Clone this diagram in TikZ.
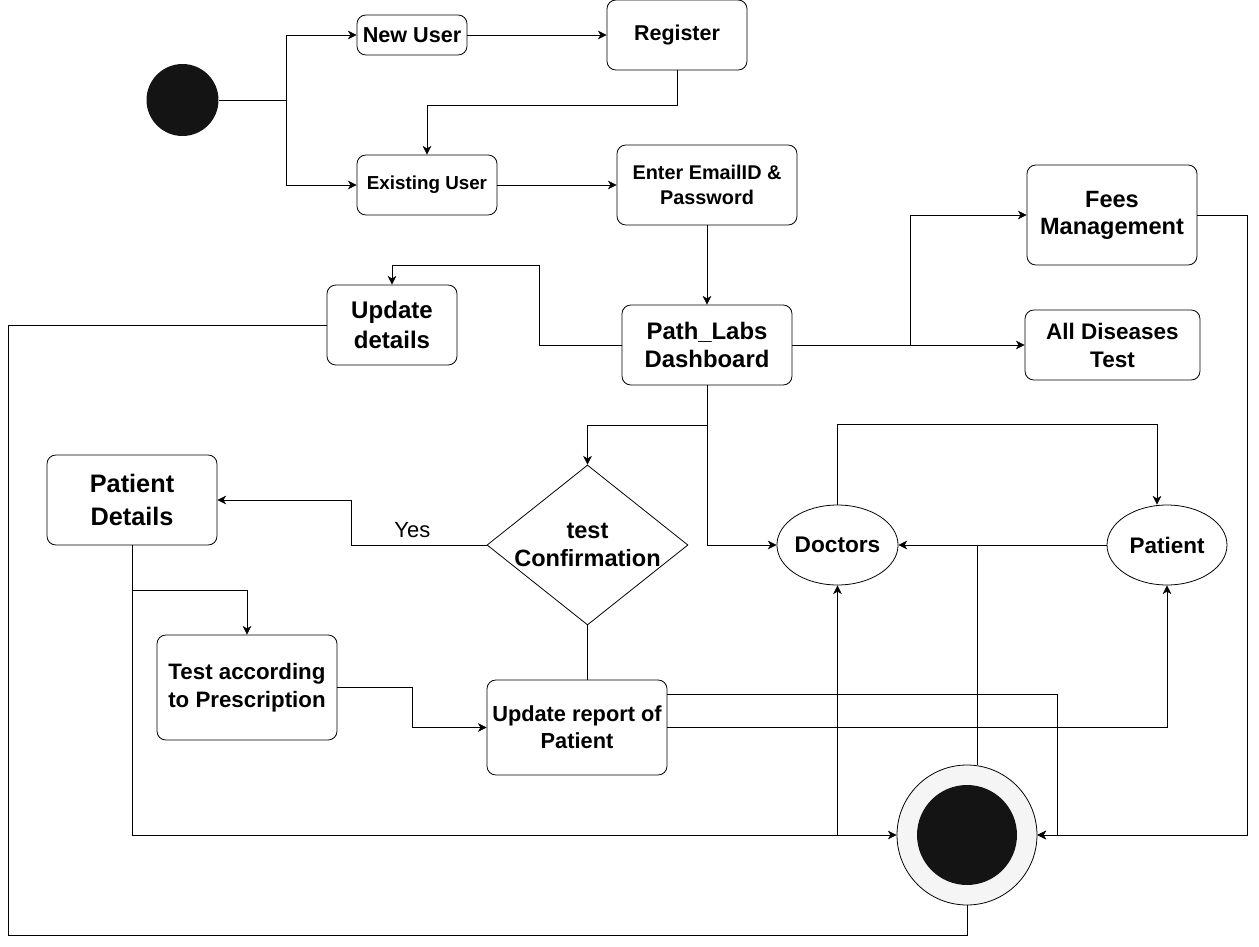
\documentclass[tikz,border=0pt]{standalone}
\usepackage{fontspec}
\setmainfont{Liberation Sans}
\usetikzlibrary{arrows.meta,shapes.geometric}
\definecolor{dotblack}{HTML}{141414}
\definecolor{ringgray}{HTML}{F5F5F5}

\tikzset{
  actbox/.style={draw, rounded corners=5pt, align=center, inner sep=1pt, line width=0.45pt},
  txt/.style 2 args={font=\bfseries\fontsize{#1}{#2}\selectfont},
  usecase/.style={draw, ellipse, inner sep=0pt, line width=0.45pt},
  decision/.style={draw, diamond, inner sep=0pt, line width=0.45pt},
  startdot/.style={circle, fill=dotblack, minimum size=1.44cm, inner sep=0pt},
  endring/.style={circle, draw, fill=ringgray, minimum size=2.8cm, inner sep=0pt, line width=0.45pt},
  enddot/.style={circle, fill=dotblack, minimum size=2cm, inner sep=0pt},
  flow/.style={line width=0.45pt, -{Stealth[length=5pt,width=5pt,inset=1.5pt]}},
  link/.style={line width=0.45pt},
}

\begin{document}
\begin{tikzpicture}[x=0.02cm,y=-0.02cm]
  \useasboundingbox (0,0) rectangle (1259,947);

  % states
  \node[startdot] (start) at (182.5,100) {};
  \node[actbox, minimum width=2.2cm, minimum height=0.8cm, txt={12.3}{14}] (newuser) at (412,35) {New User};
  \node[actbox, minimum width=2.8cm, minimum height=1.4cm, txt={12.2}{14}] (register) at (677,35) {\raisebox{-1.5pt}{Register}};
  \node[actbox, minimum width=2.8cm, minimum height=1.2cm, txt={10.7}{13}] (existing) at (427,185) {\raisebox{-1.5pt}{Existing User}};
  \node[actbox, minimum width=3.6cm, minimum height=1.6cm, txt={11.3}{14}] (login) at (707,185) {Enter EmailID \&\\Password};
  \node[actbox, minimum width=3.4cm, minimum height=1.6cm, txt={13.6}{15.9}] (dash) at (707,345) {Path\_Labs\\Dashboard};
  \node[actbox, minimum width=2.6cm, minimum height=1.6cm, txt={13.7}{17}] (upd) at (392,325) {Update\\details};
  \node[actbox, minimum width=3.4cm, minimum height=2cm, txt={13.4}{15.3}] (fees) at (1112,215) {Fees\\Management};
  \node[actbox, minimum width=3.5cm, minimum height=1.4cm, txt={12.8}{15.9}] (alltest) at (1112.5,345) {All Diseases\\Test};
  \node[actbox, minimum width=3.4cm, minimum height=1.8cm, txt={14.4}{18.7}] (pdet) at (132,500) {Patient\\Details};
  \node[decision, minimum width=4.02cm, minimum height=3.2cm,
        label={[txt={13.4}{15.9}, align=center]center:test\\Confirmation}] (conf) at (587.5,545) {};
  \node[actbox, minimum width=3.6cm, minimum height=2.1cm, txt={12.7}{15.9}] (presc) at (247,687.5) {Test according\\to Prescription};
  \node[actbox, minimum width=3.6cm, minimum height=1.9cm, txt={12.4}{15.3}] (report) at (577,727.5) {Update report of\\Patient};
  \node[usecase, minimum width=2.38cm, minimum height=1.6cm, txt={12.9}{15}] (doctors) at (837.5,545) {Doctors};
  \node[usecase, minimum width=2.4cm, minimum height=1.6cm, txt={12.8}{15}] (patient) at (1167,545) {Patient};
  \node[endring] (final) at (967,835) {};
  \node[enddot] (finaldot) at (final) {};

  % login part
  \draw[link] (start.east) -- ++(68,0) coordinate (fork);
  \draw[flow] (fork) |- (newuser.west);
  \draw[flow] (fork) |- (existing.west);
  \draw[flow] (newuser) -- (register);
  \draw[flow] (register.south) -- ++(0,35) -| (existing.north);
  \draw[flow] (existing) -- (login);
  \draw[flow] (login) -- (dash);

  % dashboard
  \draw[flow] (dash.west) -- ++(-82,0) -- ++(0,-80) -| (upd.north);
  \draw[link] (upd.west) -| (8,935) -| (final.south);
  \draw[flow] (dash) -- (alltest);
  \draw[flow] (dash.east) ++(118,0) |- (fees.west);
  \draw[flow] (fees.east) -- ++(50,0) |- (final.east);
  \draw[flow] (dash.south) |- (doctors.west);
  \draw[flow] (dash.south) ++(0,40) -| (conf.north);

  % tests
  \draw[flow] (conf.west) -- node[pos=0.55, above=4pt, inner sep=0pt, font=\fontsize{12.5}{14}\selectfont] {Yes} ++(-135,0) |- (pdet.east);
  \draw[flow] (pdet.south) |- (final.west);
  \draw[flow] (pdet.south) ++(0,45) -| (presc.north);
  \draw[flow] (presc.east) -- ++(75,0) |- (report.west);
  \draw[link] (conf.south) -- (conf.south |- report.north);
  \draw[flow] ([yshift=-0.3cm]report.north east) -| ([xshift=0.4cm]final.east) -- (final.east);
  \draw[flow] (report.east) -| (patient.south);

  % doctors and patient
  \draw[flow] (doctors.north) -- ++(0,-80) -| ([xshift=-0.2cm]patient.north);
  \draw[flow] (patient) -- (doctors);
  \draw[link] (final.north) ++(10,0) -- ++(0,-220);
  \draw[flow] (doctors.south |- final.west) -- (doctors.south);
\end{tikzpicture}
\end{document}
